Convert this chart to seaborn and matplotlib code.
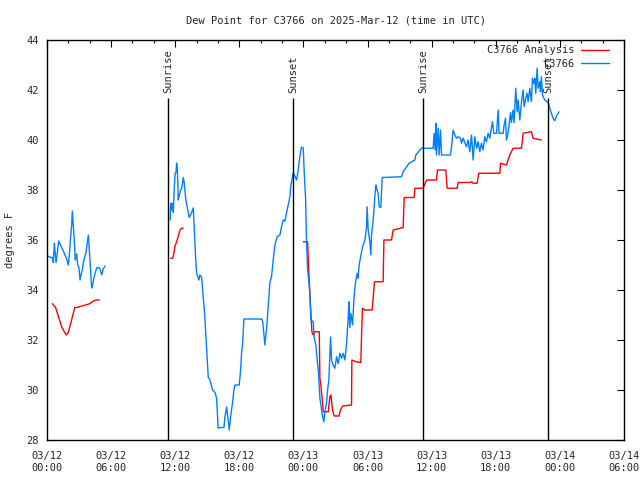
import matplotlib
matplotlib.use("Agg")
import matplotlib.pyplot as plt
import seaborn as sns
import pandas as pd
from matplotlib.lines import Line2D
from matplotlib.ticker import MultipleLocator

# hours since 03/12 00:00 UTC
obs_seg1_h = [0.12, 0.37, 0.53, 0.59, 0.69, 0.78, 0.84, 0.97, 1.09, 1.22, 1.37, 1.53, 1.68, 1.84, 1.99,
              2.09, 2.21, 2.31, 2.37, 2.46, 2.56, 2.65, 2.71, 2.78, 2.87, 2.99, 3.09, 3.18, 3.3, 3.4,
              3.52, 3.65, 3.77, 3.87, 3.96, 4.05, 4.18, 4.27, 4.4, 4.52, 4.65, 4.86, 4.99, 5.12, 5.27, 5.43]
obs_seg1_v = [35.35, 35.3, 35.3, 35.1, 35.88, 35.4, 35.1, 35.5, 35.96, 35.85, 35.7, 35.55, 35.4, 35.25, 35.0,
              35.4, 36.1, 36.6, 37.16, 36.6, 35.9, 35.2, 35.4, 35.44, 35.0, 34.9, 34.4, 34.6, 34.8, 35.1,
              35.3, 35.5, 35.9, 36.2, 35.6, 35.0, 34.08, 34.2, 34.5, 34.7, 34.88, 34.9, 34.8, 34.6, 34.85, 34.96]

obs_seg2_h = [11.53, 11.56, 11.63, 11.69, 11.76, 11.82, 11.91, 12.0, 12.07, 12.13, 12.19, 12.25, 12.28, 12.38,
              12.51, 12.63, 12.75, 12.84, 12.97, 13.13, 13.31, 13.44, 13.53, 13.69, 13.81, 13.91, 14.0, 14.13,
              14.22, 14.31, 14.47, 14.62, 14.75, 14.85, 14.94, 15.09, 15.25, 15.37, 15.5, 15.72, 15.87, 16.02,
              16.34, 16.56, 16.65, 16.81, 16.9, 16.96, 17.05, 17.18, 17.37, 17.49, 17.59, 17.99, 18.12, 18.21,
              18.31, 18.43, 20.11, 20.2, 20.39, 20.58, 20.86, 21.02, 21.17, 21.33, 21.54, 21.8, 21.95, 22.1,
              22.26, 22.42, 22.57, 22.73, 22.83, 22.95, 23.04, 23.2, 23.36, 23.51, 23.6, 23.73, 23.82, 23.98,
              24.07, 24.2, 24.29, 24.39, 24.51, 24.6, 24.7, 24.91, 25.0, 25.16, 25.29, 25.41, 25.54, 25.7,
              25.79, 25.91, 26.01, 26.16, 26.26, 26.38, 26.47, 26.54, 26.63, 26.78, 26.94, 27.1, 27.25, 27.41,
              27.57, 27.72, 27.88, 28.04, 28.19, 28.25, 28.34, 28.44, 28.6, 28.72, 28.81, 28.91, 29.03, 29.12,
              29.21, 29.35, 29.53, 29.65, 29.75, 29.91, 29.96, 30.06, 30.21, 30.31, 30.37, 30.53, 30.68, 30.78,
              30.84, 30.99, 31.09, 31.24, 31.37, 33.18, 33.33, 33.89, 34.43, 34.52, 35.05, 36.14, 36.23, 36.33,
              36.39, 36.45, 36.61, 36.7, 36.83, 36.92, 37.76, 37.86, 38.01, 38.17, 38.33, 38.48, 38.7, 38.79,
              38.95, 39.26, 39.41, 39.57, 39.73, 39.88, 40.04, 40.2, 40.35, 40.5, 40.66, 40.81, 40.97, 41.13,
              41.28, 41.44, 41.69, 41.82, 42.07, 42.22, 42.31, 42.69, 42.78, 42.91, 43.0, 43.15, 43.38, 43.47,
              43.62, 43.71, 43.87, 44.0, 44.09, 44.25, 44.41, 44.56, 44.65, 44.81, 44.93, 45.03, 45.18, 45.34,
              45.43, 45.56, 45.65, 45.74, 45.87, 45.96, 46.12, 46.18, 46.27, 46.37, 46.43, 46.59, 46.9, 47.05,
              47.21, 47.36, 47.52, 47.68, 47.92]
obs_seg2_v = [36.8, 37.3, 37.48, 37.2, 37.45, 37.1, 38.08, 38.68, 38.7, 39.08, 38.9, 38.2, 37.6, 37.8,
              38.0, 38.1, 38.5, 38.3, 37.7, 37.3, 36.9, 37.0, 37.1, 37.28, 36.2, 35.28, 34.68, 34.5,
              34.4, 34.6, 34.5, 33.72, 33.07, 32.32, 31.6, 30.52, 30.4, 30.2, 30.0, 29.9, 29.68, 28.48,
              28.5, 28.5, 28.92, 29.32, 29.0, 28.8, 28.4, 28.9, 29.52, 30.0, 30.2, 30.2, 30.8, 31.48,
              31.88, 32.84, 32.84, 32.7, 31.8, 32.6, 34.29, 34.56, 35.2, 35.8, 36.13, 36.2, 36.53, 36.8,
              36.75, 37.08, 37.4, 37.73, 38.2, 38.48, 38.68, 38.55, 38.4, 38.8, 39.13, 39.53, 39.72, 39.68,
              38.73, 37.68, 35.93, 34.8, 34.33, 33.87, 32.8, 32.73, 32.13, 31.8, 31.2, 30.67, 29.67, 29.2,
              28.93, 28.73, 29.13, 29.47, 30.0, 30.4, 31.33, 32.12, 31.2, 31.0, 30.87, 31.33, 31.05, 31.47,
              31.27, 31.47, 31.2, 31.87, 32.93, 33.53, 32.5, 33.07, 32.6, 33.6, 34.07, 34.4, 34.67, 34.47,
              35.0, 35.33, 35.73, 35.87, 36.0, 36.53, 37.33, 36.4, 35.93, 35.4, 36.2, 36.8, 37.73, 38.2,
              38.07, 37.87, 37.33, 37.3, 38.5, 38.53, 38.73, 39.07, 39.2, 39.4, 39.67, 39.67, 40.27, 39.6,
              40.67, 39.4, 40.47, 39.4, 40.4, 39.4, 39.4, 39.73, 40.4, 40.2, 40.07, 40.13, 40.07, 39.87,
              40.07, 39.73, 40.0, 39.53, 40.2, 39.2, 40.13, 39.67, 39.93, 39.53, 39.87, 39.6, 40.13, 39.93,
              40.27, 40.07, 40.73, 40.27, 40.27, 41.2, 40.27, 40.27, 40.6, 40.87, 40.0, 40.27, 41.1, 40.7,
              41.2, 40.7, 42.07, 41.13, 41.6, 40.8, 41.53, 42.0, 41.33, 41.67, 41.87, 41.53, 42.07, 41.53,
              42.47, 42.27, 42.47, 41.87, 42.87, 42.07, 42.33, 41.93, 42.53, 41.8, 41.73, 41.6, 41.5, 41.27,
              41.07, 40.87, 40.77, 40.96, 41.13]

ana_seg1_h = [0.5, 0.8, 1.1, 1.4, 1.8, 2.0, 2.3, 2.6, 2.8, 3.2, 3.6, 4.0, 4.3, 4.6, 4.9]
ana_seg1_v = [33.45, 33.3, 32.9, 32.5, 32.2, 32.3, 32.8, 33.3, 33.3, 33.35, 33.4, 33.45, 33.55, 33.6, 33.6]

ana_seg2_h = [11.57, 11.76, 11.88, 11.97, 12.13, 12.28, 12.44, 12.6, 12.75]
ana_seg2_v = [35.27, 35.27, 35.47, 35.73, 35.93, 36.13, 36.4, 36.47, 36.47]

ana_seg3_h = [23.98, 24.39, 24.45, 24.54, 24.6, 24.67, 24.73, 24.79, 24.91, 25.07, 25.48, 25.54, 25.63,
              25.79, 25.85, 26.32, 26.47, 26.57, 26.72, 26.88, 27.32, 27.47, 27.66, 28.5, 28.53, 28.91,
              29.37, 29.44, 29.53, 29.75, 30.43, 30.65, 31.46, 31.53, 32.24, 32.4, 33.33, 33.43, 34.36,
              34.43, 35.2, 35.52, 36.45, 36.54, 37.32, 37.45, 38.38, 38.48, 39.57, 39.73, 39.88, 40.25,
              40.41, 42.38, 42.44, 43.0, 43.31, 43.62, 44.41, 44.56, 45.34, 45.49, 46.27]
ana_seg3_v = [35.93, 35.93, 35.27, 34.4, 33.93, 33.27, 32.8, 32.33, 32.2, 32.33, 32.33, 30.47, 30.2,
              29.47, 29.13, 29.13, 29.73, 29.8, 29.2, 28.96, 28.96, 29.2, 29.36, 29.4, 31.2, 31.13,
              31.1, 32.2, 33.27, 33.2, 33.2, 34.33, 34.33, 36.0, 36.0, 36.4, 36.5, 37.7, 37.7,
              38.07, 38.07, 38.4, 38.4, 38.8, 38.8, 38.07, 38.07, 38.3, 38.3, 38.33, 38.27, 38.27,
              38.67, 38.67, 39.07, 39.0, 39.4, 39.67, 39.67, 40.27, 40.33, 40.07, 40.0]

sun_hours = [11.32, 23.0, 35.17, 46.87]
sun_labels = ["Sunrise", "Sunset", "Sunrise", "Sunset"]

tick_hours = [0, 6, 12, 18, 24, 30, 36, 42, 48, 54]
tick_labels = ["03/12\n00:00", "03/12\n06:00", "03/12\n12:00", "03/12\n18:00", "03/13\n00:00",
               "03/13\n06:00", "03/13\n12:00", "03/13\n18:00", "03/14\n00:00", "03/14\n06:00"]

obs_color = "#0080ff"
ana_color = "#ff0000"

obs = pd.concat([
    pd.DataFrame({"h": obs_seg1_h, "v": obs_seg1_v, "seg": 1}),
    pd.DataFrame({"h": obs_seg2_h, "v": obs_seg2_v, "seg": 2}),
])
ana = pd.concat([
    pd.DataFrame({"h": ana_seg1_h, "v": ana_seg1_v, "seg": 1}),
    pd.DataFrame({"h": ana_seg2_h, "v": ana_seg2_v, "seg": 2}),
    pd.DataFrame({"h": ana_seg3_h, "v": ana_seg3_v, "seg": 3}),
])

sns.set_style("white")
plt.rcParams["font.family"] = ["DejaVu Sans Mono"]
fs = 7.5

fig = plt.figure(figsize=(6.4, 4.8), dpi=100)
ax = fig.add_axes([47 / 640, 40 / 480, 577 / 640, 400 / 480])

sns.lineplot(data=ana, x="h", y="v", units="seg", estimator=None, color=ana_color, lw=1, ax=ax)
sns.lineplot(data=obs, x="h", y="v", units="seg", estimator=None, color=obs_color, lw=1, ax=ax)

ax.vlines(sun_hours, 28, 41.68, color="black", lw=1)
for h, lab in zip(sun_hours, sun_labels):
    ax.text(h, 41.88, lab, rotation=90, ha="center", va="bottom", fontsize=fs)

ax.set_xlim(0, 54)
ax.set_ylim(28, 44)
ax.set_xticks(tick_hours)
ax.set_xticklabels(tick_labels, fontsize=fs)
ax.xaxis.set_minor_locator(MultipleLocator(2))
ax.set_yticks(range(28, 45, 2))
ax.set_yticklabels([str(v) for v in range(28, 45, 2)], fontsize=fs)
ax.tick_params(which="both", direction="in", top=True, right=True, color="black", width=0.8)
ax.tick_params(which="major", length=5)
ax.tick_params(axis="x", which="major", pad=8)
ax.tick_params(axis="y", which="major", pad=6)
ax.tick_params(which="minor", length=2.5)
for s in ax.spines.values():
    s.set_color("black")
    s.set_linewidth(1)

ax.set_xlabel("")
ax.set_ylabel("degrees F", fontsize=fs, labelpad=8)
ax.set_title("Dew Point for C3766 on 2025-Mar-12 (time in UTC)", fontsize=fs, pad=12)

handles = [Line2D([], [], color=ana_color, lw=1), Line2D([], [], color=obs_color, lw=1)]
ax.legend(handles, ["C3766 Analysis", "C3766"], loc="upper right", bbox_to_anchor=(1 - 8 / 577, 1 + 2 / 400),
          markerfirst=False, frameon=False, fontsize=fs, handlelength=2.65, handletextpad=0.6,
          labelspacing=0.35, borderaxespad=0.3)

fig.savefig("out.png", dpi=100)
plt.close(fig)
